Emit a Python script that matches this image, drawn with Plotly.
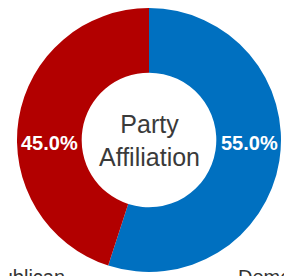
import plotly.graph_objects as go

categories = ["Democrat", "Republican"]
shares = [55.0, 45.0]
colors = ["#0070C0", "#B20000"]
center_title = "Party<br>Affiliation"

# The page body has an 8px margin, so layout positions are shifted by -8px.
W, H = 292, 276
OFF = 8

def px_x(x):
    return (x - OFF) / W

def px_y(y):
    return (H - (y - OFF)) / H

cx, cy, R = 149, 140, 132

fig = go.Figure()
fig.add_trace(go.Pie(
    labels=categories,
    values=shares,
    hole=0.51,
    sort=False,
    direction="clockwise",
    rotation=0,
    marker=dict(colors=colors, line=dict(width=0)),
    textinfo="none",
    domain=dict(x=[px_x(cx - R), px_x(cx + R)], y=[px_y(cy + R), px_y(cy - R)]),
    showlegend=False,
    hoverinfo="label+percent",
))

total = sum(shares)
pct_font = dict(family="Liberation Sans, Arial, sans-serif",
                size=20, color="white", weight="bold")
label_pos = {"Democrat": (249.5, 143), "Republican": (49, 143)}
for cat, v in zip(categories, shares):
    lx, ly = label_pos[cat]
    fig.add_annotation(text=f"{v / total * 100:.1f}%", x=px_x(lx), y=px_y(ly),
                       xref="paper", yref="paper", showarrow=False,
                       xanchor="center", yanchor="middle", font=pct_font)

fig.add_annotation(text=center_title, x=px_x(cx), y=px_y(cy), xref="paper", yref="paper",
                   showarrow=False, font=dict(family="Liberation Sans, Arial, sans-serif", size=25, color="#3a3a3a"),
                   align="center", xanchor="center", yanchor="middle")
fig.add_annotation(text=categories[1], x=px_x(67), y=0, xref="paper", yref="paper",
                   xanchor="right", yanchor="bottom", yshift=-6, showarrow=False,
                   font=dict(family="Liberation Sans, Arial, sans-serif", size=20, color="#333333"))
fig.add_annotation(text=categories[0], x=px_x(236), y=0, xref="paper", yref="paper",
                   xanchor="left", yanchor="bottom", yshift=-6, showarrow=False,
                   font=dict(family="Liberation Sans, Arial, sans-serif", size=20, color="#333333"))

fig.update_layout(width=W, height=H, margin=dict(l=0, r=0, t=0, b=0),
                  paper_bgcolor="white", plot_bgcolor="white")
fig.write_html("out.html")
